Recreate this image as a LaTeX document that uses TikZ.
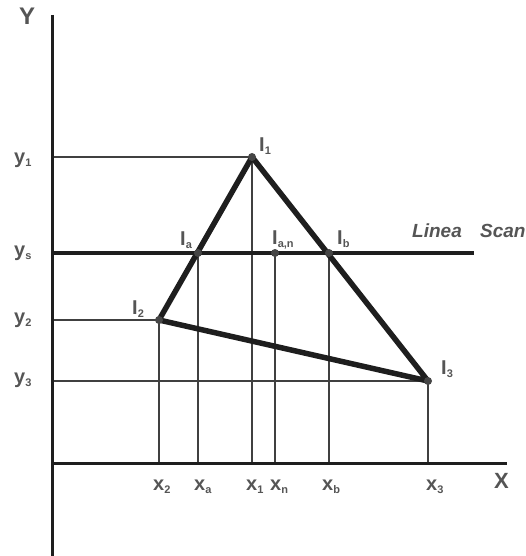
\documentclass[tikz,border=0pt]{standalone}
\usepackage{fontspec}
\setmainfont{Liberation Sans}
\usepackage{xcolor}
\usepackage{tikz}
\usetikzlibrary{calc}
\definecolor{primary}{RGB}{30, 30, 30}
\definecolor{labelgray}{RGB}{85, 85, 85}
\definecolor{dotgray}{RGB}{70, 70, 70}
\newcommand{\lowsub}[1]{\raisebox{-3pt}{\fontsize{11}{11}\selectfont #1}}

\begin{document}
\begin{tikzpicture}[x=1pt,y=-1pt,
  lbl/.style={text=labelgray,font=\fontsize{20}{20}\selectfont\bfseries,inner sep=0pt,anchor=base west},
  proj/.style={primary!85,line width=1.8pt},
  edge/.style={primary,line width=5.5pt,line cap=round,line join=round}]
\useasboundingbox (0,0) rectangle (526,556);
\coordinate (O) at (52,463);
\coordinate (Ytop) at (52,15);
\coordinate (Ybot) at (52,556);
\coordinate (Xend) at (507,463);
\coordinate (I1) at (252,157);
\coordinate (I2) at (159,320);
\coordinate (I3) at (428,381);
\coordinate (Ia) at (198,253);
\coordinate (Ian) at (275,253);
\coordinate (Ib) at (329,253);
\coordinate (Send) at (474,253);
% projections
\draw[proj] (I1) -- (I1 -| O);
\draw[proj] (I2) -- (I2 -| O);
\draw[proj] (I3) -- (I3 -| O);
\foreach \p in {I1,I2,I3,Ia,Ian,Ib} \draw[proj] (\p) -- (\p |- O);
% axes
\draw[primary,line width=3pt] (Ytop) -- (Ybot);
\draw[primary,line width=3pt] (O) -- (Xend);
% scan line
\draw[primary,line width=4.2pt] (Ia -| O) -- (Send);
% triangle
\draw[edge] (I1) -- (I2) -- (I3) -- cycle;
\foreach \p in {I1,I2,I3,Ia,Ian,Ib} \fill[dotgray] (\p) circle (4pt);
% labels
\node[lbl,font=\fontsize{24}{24}\selectfont\bfseries] (lY) at (19,25) {Y};
\node[lbl,font=\fontsize{22}{22}\selectfont\bfseries] (lX) at (494,488) {X};
\node[lbl] (ly1) at (14,164) {y\lowsub{1}};
\node[lbl] (lys) at (14,256) {y\lowsub{s}};
\node[lbl] (ly2) at (14,323) {y\lowsub{2}};
\node[lbl] (ly3) at (14,383) {y\lowsub{3}};
\node[lbl] (lI1) at (259,152) {I\lowsub{1}};
\node[lbl] (lIa) at (180,245) {I\lowsub{a}};
\node[lbl] (lIan) at (272,244) {I\lowsub{a,n}};
\node[lbl] (lIb) at (337,244) {I\lowsub{b}};
\node[lbl] (lI2) at (132,314) {I\lowsub{2}};
\node[lbl] (lI3) at (441,374) {I\lowsub{3}};
\node[lbl] (lx2) at (153,490) {x\lowsub{2}};
\node[lbl] (lxa) at (194,490) {x\lowsub{a}};
\node[lbl] (lx1) at (246,490) {x\lowsub{1}};
\node[lbl] (lxn) at (270,490) {x\lowsub{n}};
\node[lbl] (lxb) at (322,490) {x\lowsub{b}};
\node[lbl] (lx3) at (426,490) {x\lowsub{3}};
\node[lbl,font=\fontsize{19}{19}\selectfont\itshape\bfseries] (lscan) at (412,237) {Linea\hspace{13pt} Scan};
\end{tikzpicture}
\end{document}
